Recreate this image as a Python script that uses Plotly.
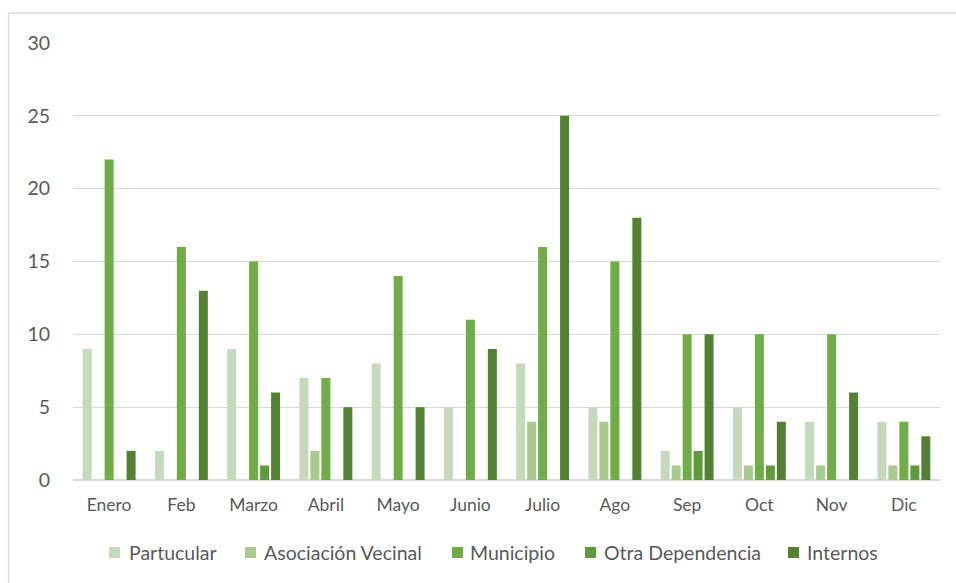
import plotly.graph_objects as go

months = ["Enero", "Feb", "Marzo", "Abril", "Mayo", "Junio", "Julio", "Ago", "Sep", "Oct", "Nov", "Dic"]
partucular = [9, 2, 9, 7, 8, 5, 8, 5, 2, 5, 4, 4]
asociacion_vecinal = [0, 0, 0, 2, 0, 0, 4, 4, 1, 1, 1, 1]
municipio = [22, 16, 15, 7, 14, 11, 16, 15, 10, 10, 10, 4]
otra_dependencia = [0, 0, 1, 0, 0, 0, 0, 0, 2, 1, 0, 1]
internos = [2, 13, 6, 5, 5, 9, 25, 18, 10, 4, 6, 3]

names = ["Partucular", "Asociación Vecinal", "Municipio", "Otra Dependencia", "Internos"]
colors = ["#C5D9BC", "#A9C98E", "#70AD47", "#63993D", "#548235"]
values = [partucular, asociacion_vecinal, municipio, otra_dependencia, internos]

fig = go.Figure()
for name, vals, col in zip(names, values, colors):
    fig.add_trace(go.Bar(x=months, y=vals, name=name, marker_color=col,
                         marker_line_width=0, showlegend=False))

# body margin is removed by post_script, so screen pixels == figure pixels
OFF = 0
W, H = 956, 583
PL, PR, PT, PB = 73, 940, 43, 480  # plot area in screen pixels
L, R, T, B = PL - OFF, W - (PR - OFF), PT - OFF, H - (PB - OFF)
pw, ph = W - L - R, H - T - B

def sx(px):
    return (px - OFF - L) / pw

def sy(py):
    return (H - B - (py - OFF)) / ph

FONT = "Lato, Carlito, sans-serif"
TXT = "#595959"
border = "#D9D9D9"
shapes = [
    dict(type="line", xref="paper", yref="paper",
         x0=sx(8.5), x1=sx(8.5), y0=sy(590), y1=sy(13),
         line=dict(color=border, width=1.5)),
    dict(type="line", xref="paper", yref="paper",
         x0=sx(8.5), x1=sx(960), y0=sy(13), y1=sy(13),
         line=dict(color=border, width=1.5)),
]
annotations = []

# custom legend (squares + labels)
sq_x = [109, 245, 452, 585, 788]
txt_x = [127, 262, 468, 602, 805]
ly = 552.5
for name, col, x0, tx in zip(names, colors, sq_x, txt_x):
    shapes.append(dict(type="rect", xref="paper", yref="paper",
                       x0=sx(x0), x1=sx(x0 + 11), y0=sy(ly + 5.5), y1=sy(ly - 5.5),
                       fillcolor=col, line=dict(width=0)))
    annotations.append(dict(xref="paper", yref="paper", x=sx(tx), y=sy(ly),
                            xanchor="left", yanchor="middle", showarrow=False,
                            text=name, font=dict(family=FONT, size=19.5, color=TXT)))

fig.update_layout(
    width=W, height=H,
    margin=dict(l=L, r=R, t=T, b=B),
    paper_bgcolor="white", plot_bgcolor="white",
    font=dict(family=FONT, color=TXT),
    barmode="group", bargap=0.24, bargroupgap=0.18,
    shapes=shapes, annotations=annotations,
    showlegend=False,
    xaxis=dict(showgrid=False, showline=False, ticks="",
               tickfont=dict(size=17.5, color=TXT), ticklabelstandoff=12),
    yaxis=dict(range=[0, 30], dtick=5, showgrid=True, gridcolor="#D9D9D9",
               gridwidth=1, zeroline=True, zerolinecolor="#D9D9D9",
               zerolinewidth=1.5, showline=False, ticks="",
               tickfont=dict(size=19.5, color=TXT),
               ticklabelstandoff=22),
)

fig.write_html("out.html",
               config={"displayModeBar": False},
               post_script="document.body.style.margin='0';document.body.style.overflow='hidden';")
